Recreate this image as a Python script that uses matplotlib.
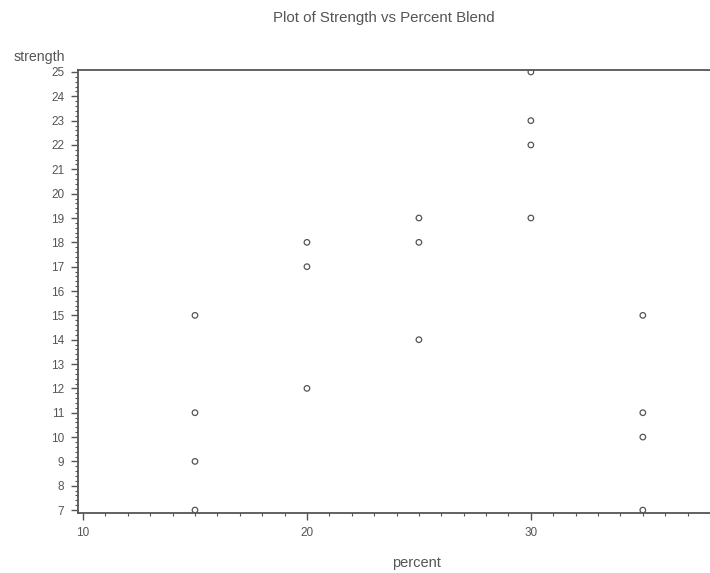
import matplotlib
matplotlib.use('Agg')
import matplotlib.pyplot as plt
import matplotlib.ticker as ticker

# data
percent = [15, 15, 15, 15,
           20, 20, 20,
           25, 25, 25,
           30, 30, 30, 30,
           35, 35, 35, 35]
strength = [7, 9, 11, 15,
            12, 17, 18,
            14, 18, 19,
            19, 22, 23, 25,
            7, 10, 11, 15]

x_ticks = [10, 20, 30]
y_ticks = list(range(7, 26))

ink = '#555555'
tickSize = 8.5

plt.rcParams.update({'font.size': tickSize, 'font.family': 'Liberation Sans'})

fig = plt.figure(figsize=(7.1, 5.73), dpi=100)
ax = fig.add_axes([0.110, 0.1047, 0.890, 0.7731])

ax.scatter(percent, strength, s=16, facecolors='none', edgecolors=ink, linewidths=0.9)

ax.set_xlim(9.78, 38.0)
ax.set_ylim(6.88, 25.08)

ax.set_xticks(x_ticks)
ax.set_yticks(y_ticks)
ax.xaxis.set_minor_locator(ticker.MultipleLocator(1))
ax.yaxis.set_minor_locator(ticker.MultipleLocator(0.2))

ax.spines['right'].set_visible(False)
for side in ['left', 'bottom', 'top']:
    ax.spines[side].set_color(ink)
    ax.spines[side].set_linewidth(1.3)

ax.tick_params(which='major', direction='out', length=5, width=1, color=ink,
               labelcolor=ink, labelsize=tickSize, pad=5)
ax.tick_params(which='minor', direction='out', length=2.5, width=0.8, color=ink)

# axis titles sit where SAS puts them (plot area runs past the right edge)
fig.text(0.587, 0.017, 'percent', color=ink, fontsize=10.5, ha='center', va='center')
fig.text(0.055, 0.9, 'strength', color=ink, fontsize=10.2, ha='center', va='center')
fig.text(0.541, 0.968, 'Plot of Strength vs Percent Blend', color=ink,
         fontsize=10.8, ha='center', va='center')

fig.savefig('out.png', dpi=100)
